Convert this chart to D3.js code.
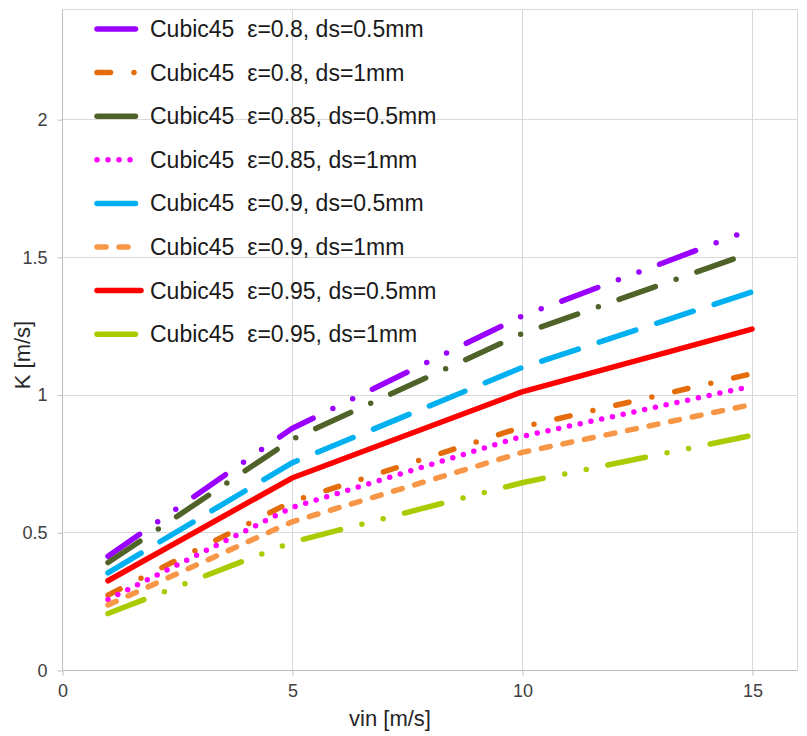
<!DOCTYPE html>
<html>
<head>
<meta charset="utf-8">
<script src="https://cdn.jsdelivr.net/npm/d3@7"></script>
<style>
  html, body { margin: 0; padding: 0; background: #ffffff; }
  svg { display: block; }
  text { font-family: "Liberation Sans", Arial, sans-serif; }
</style>
</head>
<body>
<svg id="chart" width="807" height="736"></svg>
<script>
// Inlet velocity (m/s)
const vin = [1, 5, 10, 15];

// Permeability K (m/s) per Cubic45 sample
const k_e080_d05 = [0.413, 0.877, 1.285, 1.600];
const k_e080_d10 = [0.272, 0.612, 0.882, 1.076];
const k_e085_d05 = [0.390, 0.837, 1.221, 1.516];
const k_e085_d10 = [0.256, 0.590, 0.848, 1.031];
const k_e090_d05 = [0.353, 0.752, 1.098, 1.373];
const k_e090_d10 = [0.236, 0.538, 0.790, 0.964];
const k_e095_d05 = [0.324, 0.697, 1.010, 1.238];
const k_e095_d10 = [0.205, 0.464, 0.680, 0.852];

const seriesNames = [
  "Cubic45  ε=0.8, ds=0.5mm",
  "Cubic45  ε=0.8, ds=1mm",
  "Cubic45  ε=0.85, ds=0.5mm",
  "Cubic45  ε=0.85, ds=1mm",
  "Cubic45  ε=0.9, ds=0.5mm",
  "Cubic45  ε=0.9, ds=1mm",
  "Cubic45  ε=0.95, ds=0.5mm",
  "Cubic45  ε=0.95, ds=1mm"
];
const seriesValues = [k_e080_d05, k_e080_d10, k_e085_d05, k_e085_d10,
                      k_e090_d05, k_e090_d10, k_e095_d05, k_e095_d10];

const xTicks = [0, 5, 10, 15];
const yTicks = [0, 0.5, 1, 1.5, 2];

// Line styling per series (colour + dash pattern, round caps)
const colors = ["#9900ff", "#e46c0a", "#4f6228", "#ff00ff",
                "#00b0f0", "#f79646", "#ff0000", "#a8cc00"];
const dashes = [
  "38.5,22,0,22,0,22",   // long dash dot dot
  "13.5,23.5,0,23.5",    // dash dot
  "38.5,22,0,22",        // long dash dot
  "0,11",                // round dots
  "38.5,22",             // long dash
  "9,13",                // short dash
  null,                  // solid
  "38.5,22,0,22,0,22"    // long dash dot dot
];
const lineW = 5.5;

const svg = d3.select("#chart");
svg.append("rect").attr("width", 807).attr("height", 736).attr("fill", "#ffffff");

const plot = { left: 62, right: 797, top: 9, bottom: 670 };
const x = d3.scaleLinear().domain([0, 16]).range([plot.left, plot.left + 46 * 16]);
const y = d3.scaleLinear().domain([0, 2.4]).range([plot.bottom, plot.top]);

// Gridlines
const grid = svg.append("g");
grid.selectAll(".gy").data(yTicks.filter(d => d > 0)).join("line")
  .attr("x1", plot.left).attr("x2", plot.right)
  .attr("y1", d => Math.round(y(d)) + 0.5).attr("y2", d => Math.round(y(d)) + 0.5)
  .attr("stroke", "#d9d9d9").attr("stroke-width", 1);
grid.selectAll(".gx").data(xTicks.filter(d => d > 0)).join("line")
  .attr("x1", d => Math.round(x(d)) + 0.5).attr("x2", d => Math.round(x(d)) + 0.5)
  .attr("y1", plot.top).attr("y2", plot.bottom)
  .attr("stroke", "#d9d9d9").attr("stroke-width", 1);

// Plot area frame
svg.append("rect")
  .attr("x", plot.left + 0.5).attr("y", plot.top + 0.5)
  .attr("width", plot.right - plot.left).attr("height", plot.bottom - plot.top)
  .attr("fill", "none").attr("stroke", "#d9d9d9").attr("stroke-width", 1);

// Axes
const xAxis = d3.axisBottom(x).tickValues(xTicks).tickSize(5).tickPadding(9).tickFormat(d3.format("d"));
const yAxis = d3.axisLeft(y).tickValues(yTicks).tickSize(5).tickPadding(10).tickFormat(d => String(d));

const gx = svg.append("g").attr("transform", `translate(0.5,${plot.bottom + 0.5})`).call(xAxis);
gx.select(".domain").attr("d", `M${plot.left},0H${plot.right}`).attr("stroke", "#bfbfbf");
gx.selectAll(".tick line").attr("stroke", "#bfbfbf");
gx.selectAll(".tick text").attr("fill", "#404040").attr("font-size", 18)
  .attr("font-family", "Liberation Sans, Arial, sans-serif");

const gy = svg.append("g").attr("transform", `translate(${plot.left + 0.5},0.5)`).call(yAxis);
gy.select(".domain").attr("d", `M0,${plot.top}V${plot.bottom}`).attr("stroke", "#bfbfbf");
gy.selectAll(".tick line").attr("stroke", "#bfbfbf");
gy.selectAll(".tick text").attr("fill", "#404040").attr("font-size", 18)
  .attr("font-family", "Liberation Sans, Arial, sans-serif");

// Axis titles
svg.append("text").attr("x", 390).attr("y", 726).attr("text-anchor", "middle")
  .attr("font-size", 22).attr("fill", "#262626").text("vin [m/s]");
svg.append("text").attr("transform", "translate(30,355) rotate(-90)")
  .attr("text-anchor", "middle").attr("font-size", 22).attr("fill", "#262626").text("K [m/s]");

// Series lines
const line = d3.line().x((d, i) => x(vin[i])).y(d => y(d));
svg.append("g").selectAll("path").data(seriesValues).join("path")
  .attr("d", d => line(d))
  .attr("fill", "none")
  .attr("stroke", (d, i) => colors[i])
  .attr("stroke-width", lineW)
  .attr("stroke-linecap", "round")
  .attr("stroke-linejoin", "round")
  .attr("stroke-dasharray", (d, i) => dashes[i]);

// Legend (transparent, over the grid)
const legend = svg.append("g");
const rowY = i => 29 + i * 43.6;
const items = legend.selectAll("g").data(seriesNames).join("g")
  .attr("transform", (d, i) => `translate(0,${rowY(i)})`);
items.append("path")
  .attr("d", "M97,0H141")
  .attr("fill", "none")
  .attr("stroke", (d, i) => colors[i])
  .attr("stroke-width", lineW)
  .attr("stroke-linecap", "round")
  .attr("stroke-dasharray", (d, i) => dashes[i]);
items.append("text")
  .attr("x", 150).attr("y", 0).attr("dy", "0.35em")
  .attr("font-size", 23).attr("fill", "#1a1a1a")
  .style("white-space", "pre")
  .attr("xml:space", "preserve")
  .text(d => d);
</script>
</body>
</html>
